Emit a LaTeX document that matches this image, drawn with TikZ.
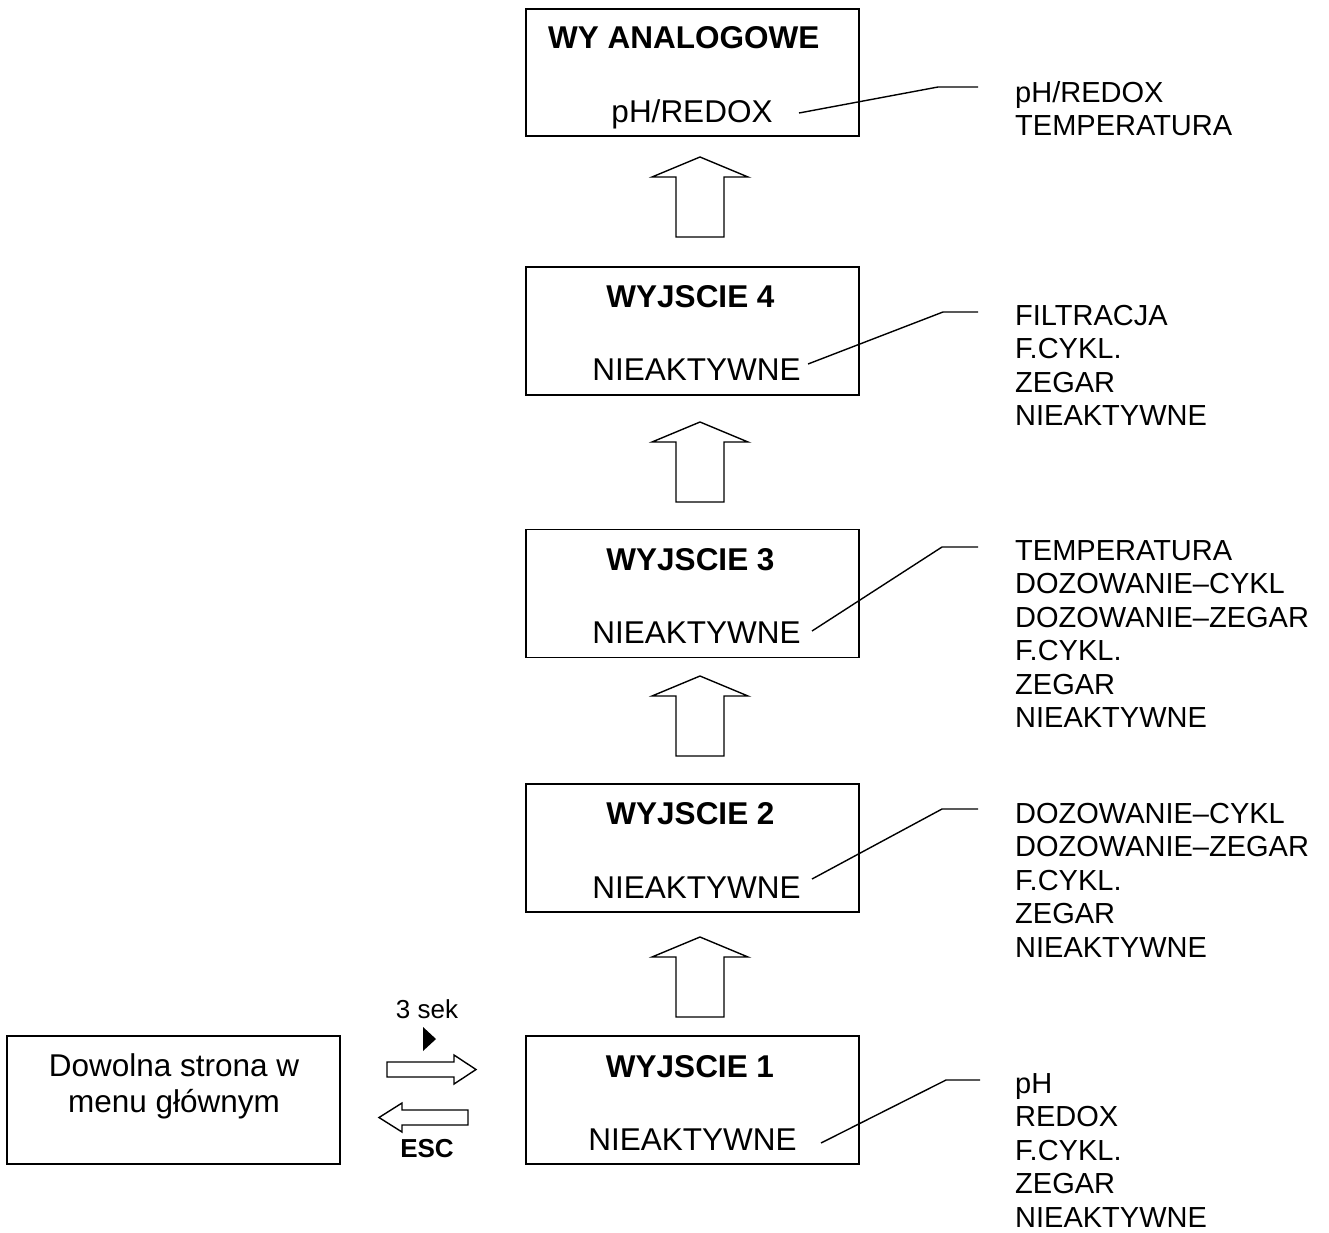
\documentclass[tikz,border=0pt]{standalone}
\usepackage{fontspec}
\setmainfont{Liberation Sans}
\begin{document}
\begin{tikzpicture}[x=1pt,y=-1pt,
  box/.style={draw, line width=1.8pt, minimum width=333pt, minimum height=128pt, inner sep=0pt},
  ttl/.style={font=\fontsize{31.5}{36}\selectfont\bfseries, anchor=base, inner sep=0pt},
  val/.style={font=\fontsize{31.5}{36}\selectfont, anchor=base, inner sep=0pt},
  lst/.style={font=\fontsize{29}{33.5}\selectfont, align=left, anchor=north west, inner sep=0pt},
  small/.style={font=\fontsize{26}{30}\selectfont, anchor=base, inner sep=0pt},
  lead/.style={line width=1.4pt},
  blk/.style={draw, line width=1.4pt, fill=white, line join=miter},
  uparr/.pic={\draw[blk] (-24,80) -- (-24,20) -- (-48,20) -- (0,0) -- (48,20) -- (24,20) -- (24,80) -- cycle;}
]
\useasboundingbox (0,0) rectangle (1329,1232);

% boxes
\node[box, minimum height=127pt] (b5) at (692.5,72.5) {};
\node[box] (b4) at (692.5,331) {};
\node[box] (b3) at (692.5,593.5) {};
\node[box] (b2) at (692.5,848) {};
\node[box] (b1) at (692.5,1100) {};
\node[box] (menu) at (173.5,1100) {};

% texts inside boxes
\node[ttl, anchor=base west] (t5) at (548,48) {WY ANALOGOWE};
\node[val] (v5) at (692,122) {pH/REDOX};
\node[ttl] (t4) at (690.5,307) {WYJSCIE 4};
\node[val] (v4) at (696.5,380) {NIEAKTYWNE};
\node[ttl] (t3) at (690.5,570) {WYJSCIE 3};
\node[val] (v3) at (696.5,643) {NIEAKTYWNE};
\node[ttl] (t2) at (690.5,824) {WYJSCIE 2};
\node[val] (v2) at (696.5,898) {NIEAKTYWNE};
\node[ttl] (t1) at (690,1077) {WYJSCIE 1};
\node[val] (v1) at (692.5,1150) {NIEAKTYWNE};
\node[font=\fontsize{31.5}{36}\selectfont, align=center, anchor=north, inner sep=0pt] (mt) at (174,1053) {Dowolna strona w\\menu głównym};

% block arrows between boxes
\pic at (700,157) {uparr};
\pic at (700,422) {uparr};
\pic at (700,676) {uparr};
\pic at (700,937) {uparr};

% side arrows
\draw[blk] (387,1062) -- (454,1062) -- (454,1055) -- (476,1069.5) -- (454,1084) -- (454,1077) -- (387,1077) -- cycle;
\draw[blk] (468,1110) -- (402,1110) -- (402,1103) -- (379,1117.5) -- (402,1132) -- (402,1125) -- (468,1125) -- cycle;
\fill (423,1027) -- (436,1039) -- (423,1051) -- cycle;
\node[small] (sek) at (427,1018) {3 sek};
\node[small, font=\fontsize{26}{30}\selectfont\bfseries] (esc) at (427,1157) {ESC};

% option lists
\node[lst] (l5) at (1015,81) {pH/REDOX\\TEMPERATURA};
\node[lst] (l4) at (1015,305) {FILTRACJA\\F.CYKL.\\ZEGAR\\NIEAKTYWNE};
\node[lst] (l3) at (1015,540) {TEMPERATURA\\DOZOWANIE–CYKL\\DOZOWANIE–ZEGAR\\F.CYKL.\\ZEGAR\\NIEAKTYWNE};
\node[lst] (l2) at (1015,803) {DOZOWANIE–CYKL\\DOZOWANIE–ZEGAR\\F.CYKL.\\ZEGAR\\NIEAKTYWNE};
\node[lst] (l1) at (1015,1073) {pH\\REDOX\\F.CYKL.\\ZEGAR\\NIEAKTYWNE};

% leader lines
\coordinate (a5) at (799,113); \coordinate (k5) at (938,87); \coordinate (e5) at (978,87);
\coordinate (a4) at (808,364); \coordinate (k4) at (943,312); \coordinate (e4) at (978,312);
\coordinate (a3) at (812,631); \coordinate (k3) at (942,547); \coordinate (e3) at (978,547);
\coordinate (a2) at (812,879); \coordinate (k2) at (942,809); \coordinate (e2) at (978,809);
\coordinate (a1) at (821,1143); \coordinate (k1) at (946,1080); \coordinate (e1) at (980,1080);
\draw[lead] (a5) -- (k5) -- (e5);
\draw[lead] (a4) -- (k4) -- (e4);
\draw[lead] (a3) -- (k3) -- (e3);
\draw[lead] (a2) -- (k2) -- (e2);
\draw[lead] (a1) -- (k1) -- (e1);
\end{tikzpicture}
\end{document}
